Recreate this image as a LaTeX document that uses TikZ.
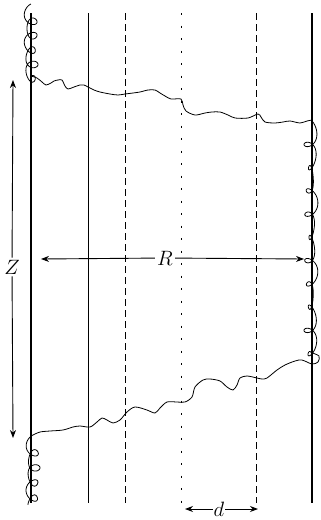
\documentclass[tikz,border=0pt]{standalone}
\usepackage{amsmath}
\usepackage{tikz}
\usetikzlibrary{arrows.meta}

\begin{document}
\begin{tikzpicture}[x=1pt,y=-1pt,
  wall/.style={line width=2.2pt},
  thinwall/.style={line width=0.9pt},
  dashwall/.style={line width=1pt,dash pattern=on 7pt off 4pt},
  axis/.style={line width=0.8pt,dash pattern=on 2pt off 10.5pt},
  track/.style={line width=0.8pt},
  dim/.style={line width=0.9pt},
  lab/.style={font=\huge,inner sep=2pt}]
  \useasboundingbox (0,0) rectangle (321,520);

  \draw [wall] (31,13) -- (31,503);
  \draw [thinwall] (88,13) -- (88,503);
  \draw [dashwall] (125,13) -- (125,503);
  \draw [axis] (181,13) -- (181,503);
  \draw [dashwall] (256,13) -- (256,503);
  \draw [wall] (312,13) -- (312,503);

  \draw [track] plot[domain=0:31.42, samples=240, smooth] ({31-(5.5+1.5*sin(0.6*\x r))*sin(\x r)}, {4+2.29*\x+6.5-6.5*cos(\x r)});
  \draw [track] plot[smooth] coordinates {(31,76) (37,78) (42,82) (46,85) (51,83) (54,81) (58,80) (62,80) (65,86) (68,89) (74,87) (80,85) (84,85) (88,87) (94,90) (100,92) (110,94) (118,95) (125,94) (133,93) (140,92) (148,90) (155,90) (160,93) (165,96) (171,99) (181,99) (183,105) (186,111) (195,115) (205,113) (212,112) (220,112) (228,115) (235,118) (248,118) (258,114) (261,117) (265,122) (275,123) (283,122) (290,121) (300,123) (307,121) (312,120)};
  \draw [track] plot[domain=0:62.83, samples=480, smooth] ({311+(4.5+2.5*sin(0.37*\x r))*sin(\x r)}, {120+3.7*\x+7-7*cos(\x r)});
  \draw [track] plot[smooth] coordinates {(311,352.5) (319,356) (318,362) (312,364) (302,360) (295,361) (285,365) (277,370) (267,378) (262,379) (257,378) (247,376) (240,378) (237,385) (233,390) (227,387) (220,381) (210,379) (203,380) (195,387) (192,397) (185,402) (177,402) (167,402) (160,408) (155,413) (147,410) (135,407) (127,412) (120,420) (113,423) (107,420) (102,418) (97,422) (90,427) (80,426) (73,427) (63,430) (50,431) (40,432) (33,435)};
  \draw [track] plot[domain=0:26.6, samples=220, smooth] ({33-(5.5+1.5*sin(0.7*\x r))*sin(\x r)}, {435+2.4*\x+6.5-6.5*cos(\x r)});

  \coordinate (ztop) at (13,80);
  \coordinate (zbot) at (13,438);
  \node [lab] (zlab) at (12,267) {$Z$};
  \draw [-{Stealth[length=8pt,width=6pt]}][dim] (zlab) -- (ztop);
  \draw [-{Stealth[length=8pt,width=6pt]}][dim] (zlab) -- (zbot);

  \coordinate (rleft) at (41,259);
  \coordinate (rright) at (304,259);
  \node [lab] (rlab) at (165,258) {$R$};
  \draw [-{Stealth[length=8pt,width=6pt]}][dim] (rlab) -- (rleft);
  \draw [-{Stealth[length=8pt,width=6pt]}][dim] (rlab) -- (rright);

  \coordinate (dleft) at (185,509);
  \coordinate (dright) at (258,509);
  \node [lab,inner sep=1pt] (dlab) at (219,509) {$d$};
  \draw [-{Stealth[length=8pt,width=6pt]}][dim] (dlab) -- (dleft);
  \draw [-{Stealth[length=8pt,width=6pt]}][dim] (dlab) -- (dright);
\end{tikzpicture}
\end{document}
